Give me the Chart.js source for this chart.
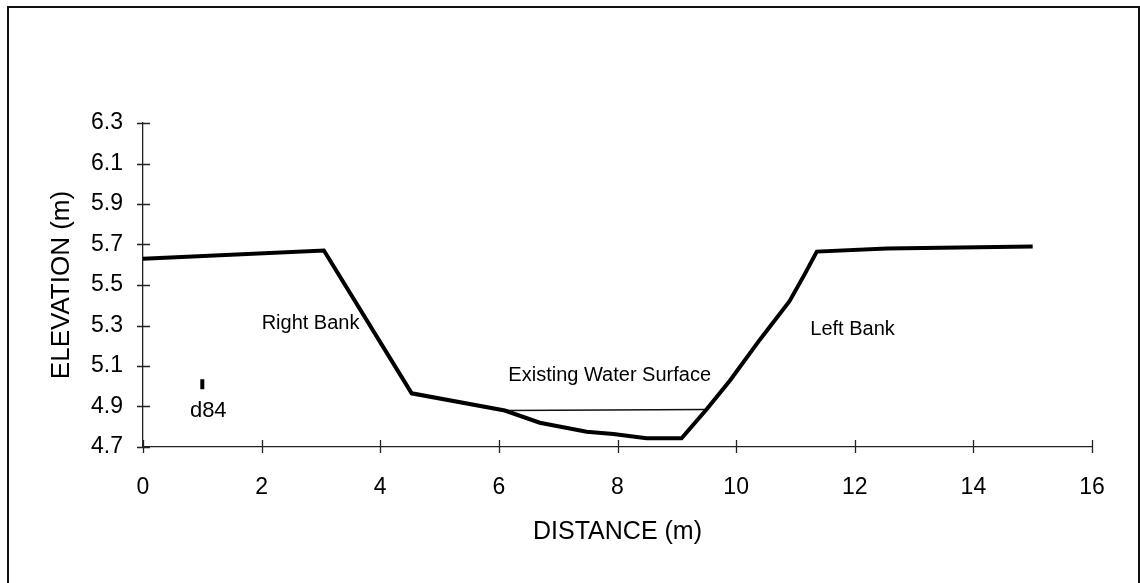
<!DOCTYPE html>
<html>
<head>
<meta charset="utf-8">
<title>Cross section</title>
<script src="https://cdn.jsdelivr.net/npm/chart.js@4"></script>
<style>
  body { margin: 0; background: #fff; }
  #wrap { width: 1140px; height: 583px; }
</style>
</head>
<body>
<div id="wrap"><canvas id="xsec" width="1140" height="583"></canvas></div>
<script>
// channel cross section, surveyed points
const distance  = [0, 3.05, 4.53, 6.1, 6.69, 7.48, 7.93, 8.49, 9.08, 9.5, 9.9, 10.4, 10.9, 11.15, 11.36, 12.54, 15.0];
const elevation = [5.63, 5.67, 4.965, 4.88, 4.82, 4.775, 4.764, 4.743, 4.743, 4.885, 5.03, 5.23, 5.42, 5.55, 5.665, 5.68, 5.69];

// existing water surface
const waterX = [6.1, 9.5];
const waterY = [4.88, 4.885];

// d84 marker
const d84X = [1.0];
const d84Y = [5.01];

const xTicks = [0, 2, 4, 6, 8, 10, 12, 14, 16];
const yTicks = [4.7, 4.9, 5.1, 5.3, 5.5, 5.7, 5.9, 6.1, 6.3];

// text notes placed in data units
const noteText = ['Right Bank', 'Left Bank', 'Existing Water Surface', 'd84'];
const noteX = [2.0, 11.25, 6.16, 1.1];
const noteY = [5.31, 5.28, 5.055, 4.88];

function toPoints(xs, ys) {
  return xs.map((x, i) => ({ x: x, y: ys[i] }));
}

Chart.defaults.font.family = "'Liberation Sans', Arial, sans-serif";
Chart.defaults.color = '#000';

const framePlugin = {
  id: 'frame',
  beforeDraw(chart) {
    const ctx = chart.ctx;
    ctx.save();
    ctx.fillStyle = '#fff';
    ctx.fillRect(0, 0, chart.width, chart.height);
    ctx.strokeStyle = '#111';
    ctx.lineWidth = 2;
    ctx.strokeRect(8, 7, 1131, 620);
    ctx.restore();
  },
  afterDraw(chart) {
    const ctx = chart.ctx;
    const xs = chart.scales.x;
    const ys = chart.scales.y;
    ctx.save();
    ctx.strokeStyle = '#222';
    ctx.lineWidth = 1.3;
    // tick marks crossing the axes
    ctx.beginPath();
    xTicks.forEach(v => {
      const px = Math.round(xs.getPixelForValue(v)) + 0.5;
      ctx.moveTo(px, ys.bottom - 7);
      ctx.lineTo(px, ys.bottom + 6);
    });
    yTicks.forEach(v => {
      const py = Math.round(ys.getPixelForValue(v)) + 0.5;
      ctx.moveTo(xs.left - 6, py);
      ctx.lineTo(xs.left + 7, py);
    });
    ctx.stroke();

    // notes
    ctx.fillStyle = '#000';
    ctx.textBaseline = 'middle';
    noteText.forEach((t, i) => {
      const px = xs.getPixelForValue(noteX[i]);
      const py = ys.getPixelForValue(noteY[i]);
      if (t === 'd84') {
        ctx.font = "22px 'Liberation Sans', Arial, sans-serif";
        ctx.textAlign = 'center';
      } else {
        ctx.font = "20px 'Liberation Sans', Arial, sans-serif";
        ctx.textAlign = 'left';
      }
      ctx.fillText(t, px, py);
    });
    ctx.restore();
  }
};

new Chart(document.getElementById('xsec'), {
  type: 'scatter',
  data: {
    datasets: [
      {
        label: 'Ground',
        data: toPoints(distance, elevation),
        showLine: true,
        borderColor: '#000',
        borderWidth: 4,
        pointRadius: 0,
        tension: 0,
        clip: false
      },
      {
        label: 'Existing Water Surface',
        data: toPoints(waterX, waterY),
        showLine: true,
        borderColor: '#111',
        borderWidth: 1.5,
        pointRadius: 0,
        clip: false
      },
      {
        label: 'd84',
        data: toPoints(d84X, d84Y),
        pointStyle: 'line',
        rotation: 90,
        pointRadius: 5,
        borderColor: '#000',
        borderWidth: 4,
        backgroundColor: '#000'
      }
    ]
  },
  options: {
    responsive: false,
    animation: false,
    devicePixelRatio: 1,
    layout: { padding: { top: 123, right: 48, left: 0, bottom: 0 } },
    plugins: {
      legend: { display: false },
      tooltip: { enabled: false }
    },
    scales: {
      x: {
        type: 'linear',
        min: 0,
        max: 16,
        grid: { display: false },
        border: { display: true, color: '#222', width: 1.3 },
        ticks: {
          stepSize: 2,
          padding: 19,
          font: { size: 23 },
          color: '#000'
        },
        title: {
          display: true,
          text: 'DISTANCE (m)',
          font: { size: 25 },
          color: '#000',
          padding: { top: 0, bottom: 36 }
        },
        afterFit(scale) { scale.height = 136; }
      },
      y: {
        type: 'linear',
        min: 4.7,
        max: 6.3,
        grid: { display: false },
        border: { display: true, color: '#222', width: 1.3 },
        ticks: {
          stepSize: 0.2,
          padding: 12,
          font: { size: 23 },
          color: '#000',
          callback: v => v.toFixed(1)
        },
        title: {
          display: true,
          text: 'ELEVATION (m)',
          font: { size: 26 },
          color: '#000',
          padding: { top: 46, bottom: 0 }
        },
        afterFit(scale) { scale.width = 143; }
      }
    }
  },
  plugins: [framePlugin]
});
</script>
</body>
</html>
